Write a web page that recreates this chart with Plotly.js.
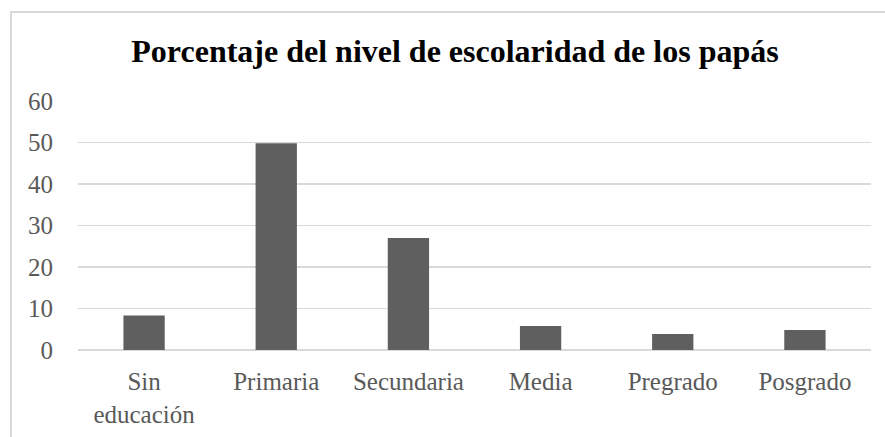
<!DOCTYPE html>
<html>
<head>
<meta charset="utf-8">
<script src="https://cdn.plot.ly/plotly-3.0.1.min.js"></script>
<style>
html,body{margin:0;padding:0;background:#fff;}
#frame{position:absolute;left:10px;top:11px;width:900px;height:440px;border-left:2px solid #d9d9d9;border-top:2px solid #d9d9d9;box-sizing:border-box;}
#chart{position:absolute;left:0;top:0;width:885px;height:437px;}
</style>
</head>
<body>
<div id="frame"></div>
<div id="chart"></div>
<script>
const categories = ["Sin<br>educación", "Primaria", "Secundaria", "Media", "Pregrado", "Posgrado"];
const values = [8.3, 49.8, 27.0, 5.8, 3.85, 4.8];
const yTicks = [0, 10, 20, 30, 40, 50, 60];
const titleText = "Porcentaje del nivel de escolaridad de los papás";

const font = "'Liberation Serif', 'Times New Roman', serif";
const data = [{
  type: 'bar',
  x: categories,
  y: values,
  marker: {color: '#5f5f5f', line: {width: 0}},
  hoverinfo: 'skip'
}];
const layout = {
  width: 885, height: 437,
  margin: {l: 78, r: 14, t: 101, b: 87},
  paper_bgcolor: 'rgba(0,0,0,0)',
  plot_bgcolor: 'rgba(0,0,0,0)',
  bargap: 0.6875,
  showlegend: false,
  title: {
    text: '<b>' + titleText + '</b>',
    font: {family: font, size: 32, color: '#000'},
    xref: 'container', x: 455/885, xanchor: 'center',
    yref: 'container', y: 1 - 51/437, yanchor: 'middle'
  },
  xaxis: {
    type: 'category',
    tickfont: {family: font, size: 25, color: '#595959'},
    showgrid: false, zeroline: false, showline: false, ticks: '',
    ticklabelstandoff: 14
  },
  yaxis: {
    range: [0, 60],
    tickvals: yTicks,
    ticktext: yTicks.map(String),
    tickfont: {family: font, size: 25, color: '#595959'},
    showgrid: true, gridcolor: '#d9d9d9', gridwidth: 1.5,
    zeroline: true, zerolinecolor: '#d9d9d9', zerolinewidth: 1.5,
    showline: false, ticks: '',
    ticklabelstandoff: 24
  }
};
Plotly.newPlot('chart', data, layout, {displayModeBar: false, staticPlot: true});
</script>
</body>
</html>
